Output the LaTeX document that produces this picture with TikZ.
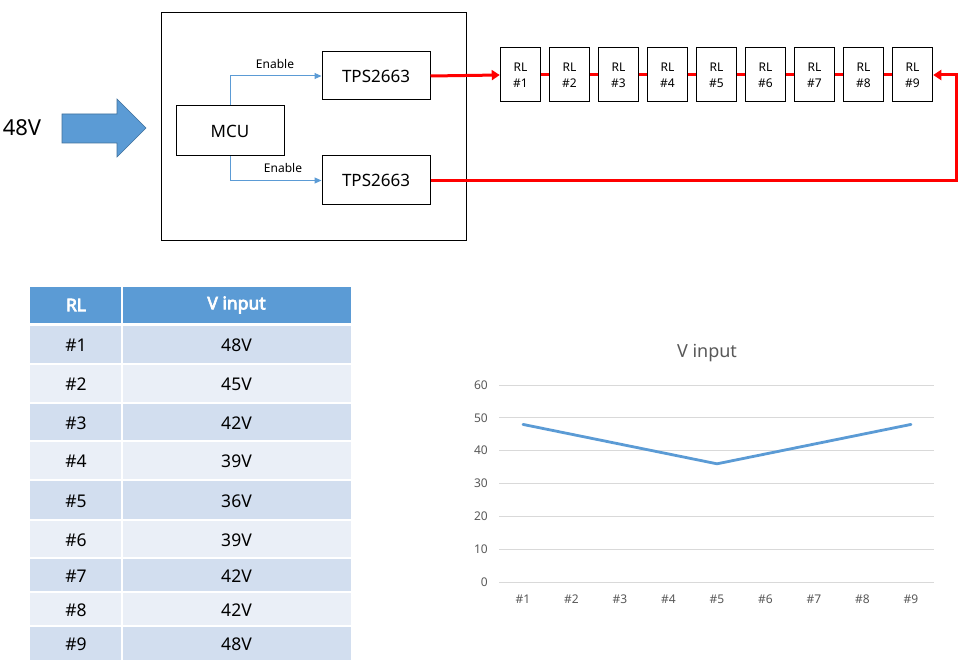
\documentclass[tikz,border=0pt]{standalone}
\usepackage{fontspec}
\setmainfont{Noto Sans}
\newfontfamily\headfont{Noto Sans}[FakeBold=4]
\usetikzlibrary{arrows.meta}
\definecolor{accent}{HTML}{5B9BD5}
\definecolor{accentdark}{HTML}{41719C}
\definecolor{rowa}{HTML}{D2DEEF}
\definecolor{rowb}{HTML}{EAEFF7}
\definecolor{gridc}{HTML}{D9D9D9}
\definecolor{axtext}{HTML}{595959}
\definecolor{wire}{HTML}{FF0000}
\tikzset{
  blk/.style={draw=black, line width=1pt, inner sep=0pt, fill=white},
  chip/.style={blk, minimum width=108pt, font=\fontsize{17}{20}\selectfont},
  relay/.style={blk, minimum width=40.5pt, minimum height=54pt, align=center, font=\fontsize{12}{16}\selectfont},
  enline/.style={draw=accent, line width=1pt, -{Triangle[length=7pt,width=6pt]}},
  redline/.style={draw=wire, line width=3pt},
  redarrow/.style={redline, -{Triangle[length=8pt,width=10pt]}},
  lbl/.style={font=\fontsize{12}{14}\selectfont, inner sep=0pt},
  celltext/.style={font=\fontsize{17.5}{20}\selectfont, inner sep=0pt},
  headtext/.style={font=\headfont\fontsize{17.5}{20}\selectfont, text=white, inner sep=0pt},
  axlbl/.style={font=\fontsize{12}{14}\selectfont, text=axtext, inner sep=0pt},
}
\begin{document}
\begin{tikzpicture}[x=1pt,y=-1pt]
\useasboundingbox (0,0) rectangle (969,663);
\fill[white] (0,0) rectangle (969,663);

% input arrow and label
\node[font=\fontsize{22}{24}\selectfont, inner sep=0pt] (vin) at (22,128) {48V};
\draw[fill=accent, draw=accentdark, line width=0.6pt]
  (62,114) -- (117,114) -- (117,99) -- (146,128) -- (117,157) -- (117,143) -- (62,143) -- cycle;

% board
\node[blk, minimum width=305pt, minimum height=227pt] (board) at (313.5,126.5) {};
\node[blk, minimum width=108pt, minimum height=50pt, font=\fontsize{17}{20}\selectfont] (mcu) at (230,131) {MCU};
\node[chip, minimum height=48pt] (tps1) at (376,76) {TPS2663};
\node[chip, minimum height=49pt] (tps2) at (376,180.5) {TPS2663};

\draw[enline] (mcu.north) |- (tps1.west);
\draw[enline] (mcu.south) |- (tps2.west);
\node[lbl] (en1) at (275,64) {Enable};
\node[lbl] (en2) at (283,168) {Enable};

% relays
\foreach \i in {1,...,9} {
  \node[relay] (rl\i) at ({520.5+49*(\i-1)},75) {RL\\\#\i};
}
\foreach \i [evaluate=\i as \j using int(\i+1)] in {1,...,8} {
  \draw[redline] (rl\i.east) -- (rl\j.west);
}
\draw[redarrow] (tps1.east) -- (rl1.west);
\coordinate (turn) at (956,180.5);
\draw[redarrow] (tps2.east) -- (turn) |- (rl9.east);

% table
\fill[accent] (30,287) rectangle (351,324);
\foreach \k/\t/\b/\c in {1/324/364/rowa,2/364/403/rowb,3/403/441/rowa,4/441/480/rowb,5/480/520/rowa,6/520/558/rowb,7/558/592/rowa,8/592/626/rowb,9/626/660/rowa} {
  \fill[\c] (30,\t) rectangle (351,\b);
}
\foreach \y in {324,364,403,441,480,520,558,592,626} {
  \draw[white, line width=2pt] (30,\y) -- (351,\y);
}
\draw[white, line width=2pt] (122,287) -- (122,660);
\draw[white, line width=3pt] (30,324) -- (351,324);
\node[headtext] (hrl) at (76,305) {RL};
\node[headtext] (hv) at (236.5,305) {V input};
\foreach \k/\t/\b/\v in {1/324/364/48V,2/364/403/45V,3/403/441/42V,4/441/480/39V,5/480/520/36V,6/520/558/39V,7/558/592/42V,8/592/626/42V,9/626/660/48V} {
  \node[celltext] (ta\k) at (76,{(\t+\b)/2+1}) {\#\k};
  \node[celltext] (tv\k) at (236.5,{(\t+\b)/2+1}) {\v};
}

% chart
\node[font=\fontsize{18}{20}\selectfont, text=axtext, inner sep=0pt] (ctitle) at (707,353) {V input};
\foreach \k in {0,...,6} {
  \draw[gridc, line width=1pt] (499,{582-32.83*\k}) -- (934,{582-32.83*\k});
  \node[axlbl, anchor=east] (yl\k) at (488,{582-32.83*\k}) {\pgfmathparse{int(10*\k)}\pgfmathresult};
}
\foreach \i in {1,...,9} {
  \node[axlbl] (xl\i) at ({523+48.5*(\i-1)},599) {\#\i};
}
\draw[accent, line width=2.8pt, line join=round, line cap=round]
  plot coordinates {(523,{582-3.283*48}) (571.5,{582-3.283*45}) (620,{582-3.283*42}) (668.5,{582-3.283*39}) (717,{582-3.283*36}) (765.5,{582-3.283*39}) (814,{582-3.283*42}) (862.5,{582-3.283*45}) (911,{582-3.283*48})};
\end{tikzpicture}
\end{document}
